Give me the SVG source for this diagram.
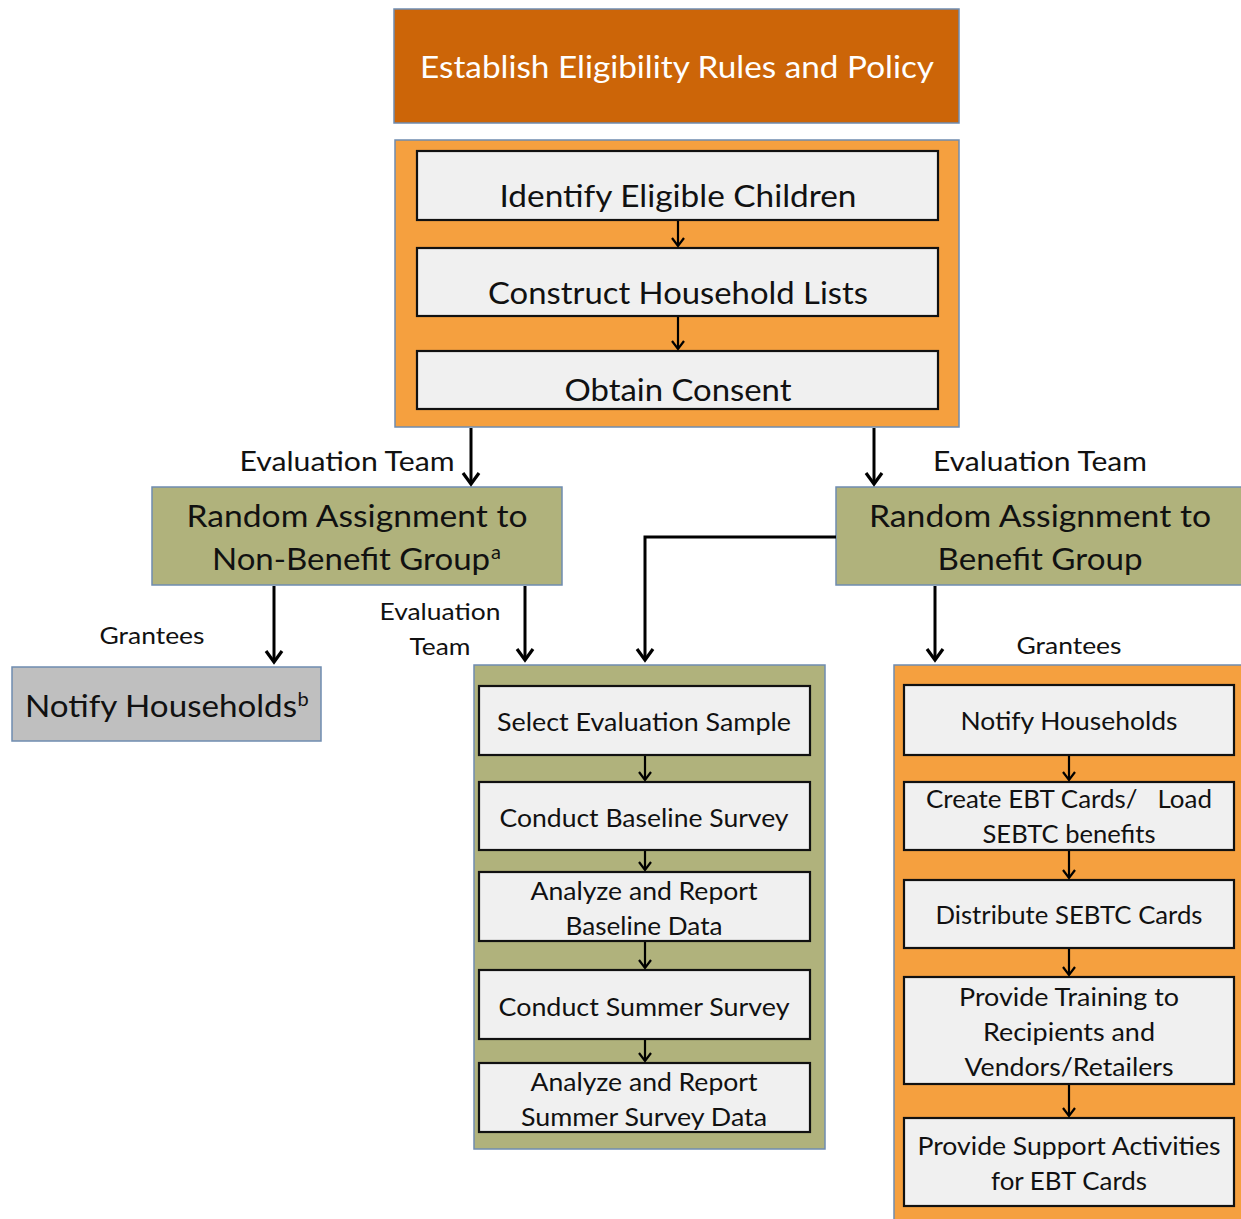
<svg xmlns="http://www.w3.org/2000/svg" width="1241" height="1219" viewBox="0 0 1241 1219">
<style>
text{font-family:Lato,"Open Sans","Liberation Sans",sans-serif;fill:#111;text-anchor:middle}
.outer{stroke:#6F8CB0;stroke-width:1.5}
.dark{fill:#CC6508}
.orange{fill:#F5A03F}
.olive{fill:#B0B27C}
.grey{fill:#BFBFBF}
.inner{fill:#F0F0F0;stroke:#111;stroke-width:2.2}
.big{font-size:30px}
.mid{font-size:26px}
.sm{font-size:24.5px}
.lbl{font-size:23px}
.sup{font-size:20px}
.thick{stroke:#000;stroke-width:3;fill:none}
.thin{stroke:#000;stroke-width:2.2;fill:none}
</style>
<defs>
<marker id="ah" markerUnits="userSpaceOnUse" markerWidth="26" markerHeight="26" viewBox="-13 -13 26 26" refX="0" refY="0" orient="auto">
<path d="M-11,-8 L0,0 L-11,8" fill="none" stroke="#000" stroke-width="3.2"/>
</marker>
<marker id="ahs" markerUnits="userSpaceOnUse" markerWidth="18" markerHeight="18" viewBox="-9 -9 18 18" refX="0" refY="0" orient="auto">
<path d="M-8,-6 L0,0 L-8,6" fill="none" stroke="#000" stroke-width="2.2"/>
</marker>
</defs>
<rect width="1241" height="1219" fill="#fff"/>

<g id="establish">
<rect class="outer dark" x="394" y="9" width="565" height="114"/>
<text class="big" x="677" y="78" style="fill:#fff" textLength="514" lengthAdjust="spacingAndGlyphs">Establish Eligibility Rules and Policy</text>
</g>

<g id="prep-container">
<rect class="outer orange" x="395" y="140" width="564" height="287"/>
</g>
<g id="identify">
<rect class="inner" x="417" y="151" width="521" height="69"/>
<text class="big" x="678" y="207" textLength="357" lengthAdjust="spacingAndGlyphs">Identify Eligible Children</text>
</g>
<g id="construct">
<rect class="inner" x="417" y="248" width="521" height="68"/>
<text class="big" x="678" y="304" textLength="380" lengthAdjust="spacingAndGlyphs">Construct Household Lists</text>
</g>
<g id="consent">
<rect class="inner" x="417" y="351" width="521" height="58"/>
<text class="big" x="678" y="401" textLength="227" lengthAdjust="spacingAndGlyphs">Obtain Consent</text>
</g>

<g id="nonbenefit">
<rect class="outer olive" x="152" y="487" width="410" height="98"/>
<text class="big" x="357" y="527" textLength="341" lengthAdjust="spacingAndGlyphs">Random Assignment to</text>
<text class="big" x="351" y="570" textLength="278" lengthAdjust="spacingAndGlyphs">Non-Benefit Group</text>
<text class="sup" x="496" y="559">a</text>
</g>

<g id="benefit">
<rect class="outer olive" x="836" y="487" width="410" height="98"/>
<text class="big" x="1040" y="527" textLength="342" lengthAdjust="spacingAndGlyphs">Random Assignment to</text>
<text class="big" x="1040" y="570" textLength="205" lengthAdjust="spacingAndGlyphs">Benefit Group</text>
</g>

<g id="notify-nonbenefit">
<rect class="outer grey" x="12" y="667" width="309" height="74"/>
<text class="big" x="161" y="717" textLength="272" lengthAdjust="spacingAndGlyphs">Notify Households</text>
<text class="sup" x="303" y="706">b</text>
</g>

<g id="eval-container">
<rect class="outer olive" x="474" y="665" width="351" height="484"/>
</g>
<g id="select-sample">
<rect class="inner" x="479" y="686" width="331" height="69"/>
<text class="sm" x="644" y="731" textLength="294" lengthAdjust="spacingAndGlyphs">Select Evaluation Sample</text>
</g>
<g id="baseline-survey">
<rect class="inner" x="479" y="782" width="331" height="68"/>
<text class="sm" x="644" y="827" textLength="289" lengthAdjust="spacingAndGlyphs">Conduct Baseline Survey</text>
</g>
<g id="baseline-report">
<rect class="inner" x="479" y="872" width="331" height="69"/>
<text class="sm" x="644" y="900" textLength="227" lengthAdjust="spacingAndGlyphs">Analyze and Report</text>
<text class="sm" x="644" y="935" textLength="157" lengthAdjust="spacingAndGlyphs">Baseline Data</text>
</g>
<g id="summer-survey">
<rect class="inner" x="479" y="970" width="331" height="69"/>
<text class="sm" x="644" y="1016" textLength="291" lengthAdjust="spacingAndGlyphs">Conduct Summer Survey</text>
</g>
<g id="summer-report">
<rect class="inner" x="479" y="1063" width="331" height="69"/>
<text class="sm" x="644" y="1091" textLength="227" lengthAdjust="spacingAndGlyphs">Analyze and Report</text>
<text class="sm" x="644" y="1126" textLength="246" lengthAdjust="spacingAndGlyphs">Summer Survey Data</text>
</g>

<g id="grantee-container">
<rect class="outer orange" x="894" y="665" width="360" height="570"/>
</g>
<g id="notify-benefit">
<rect class="inner" x="904" y="685" width="330" height="70"/>
<text class="sm" x="1069" y="730" textLength="217" lengthAdjust="spacingAndGlyphs">Notify Households</text>
</g>
<g id="create-cards">
<rect class="inner" x="904" y="782" width="330" height="68"/>
<text class="sm" x="1069" y="808" textLength="286" lengthAdjust="spacingAndGlyphs" xml:space="preserve">Create EBT Cards/   Load</text>
<text class="sm" x="1069" y="843" textLength="173" lengthAdjust="spacingAndGlyphs">SEBTC benefits</text>
</g>
<g id="distribute">
<rect class="inner" x="904" y="880" width="330" height="68"/>
<text class="sm" x="1069" y="924" textLength="267" lengthAdjust="spacingAndGlyphs">Distribute SEBTC Cards</text>
</g>
<g id="training">
<rect class="inner" x="904" y="977" width="330" height="107"/>
<text class="sm" x="1069" y="1006" textLength="220" lengthAdjust="spacingAndGlyphs">Provide Training to</text>
<text class="sm" x="1069" y="1041" textLength="172" lengthAdjust="spacingAndGlyphs">Recipients and</text>
<text class="sm" x="1069" y="1076" textLength="209" lengthAdjust="spacingAndGlyphs">Vendors/Retailers</text>
</g>
<g id="support">
<rect class="inner" x="904" y="1118" width="330" height="88"/>
<text class="sm" x="1069" y="1155" textLength="303" lengthAdjust="spacingAndGlyphs">Provide Support Activities</text>
<text class="sm" x="1069" y="1190" textLength="156" lengthAdjust="spacingAndGlyphs">for EBT Cards</text>
</g>

<g id="connectors">
<line class="thin" x1="678" y1="221" x2="678" y2="246" marker-end="url(#ahs)"/>
<line class="thin" x1="678" y1="317" x2="678" y2="349" marker-end="url(#ahs)"/>
<line class="thick" x1="471" y1="428" x2="471" y2="484" marker-end="url(#ah)"/>
<line class="thick" x1="874" y1="428" x2="874" y2="484" marker-end="url(#ah)"/>
<line class="thick" x1="274" y1="586" x2="274" y2="662" marker-end="url(#ah)"/>
<line class="thick" x1="525" y1="586" x2="525" y2="660" marker-end="url(#ah)"/>
<polyline class="thick" points="836,537 645,537 645,660" marker-end="url(#ah)"/>
<line class="thick" x1="935" y1="586" x2="935" y2="660" marker-end="url(#ah)"/>
<line class="thin" x1="645" y1="756" x2="645" y2="780" marker-end="url(#ahs)"/>
<line class="thin" x1="645" y1="851" x2="645" y2="870" marker-end="url(#ahs)"/>
<line class="thin" x1="645" y1="942" x2="645" y2="968" marker-end="url(#ahs)"/>
<line class="thin" x1="645" y1="1040" x2="645" y2="1061" marker-end="url(#ahs)"/>
<line class="thin" x1="1069" y1="756" x2="1069" y2="780" marker-end="url(#ahs)"/>
<line class="thin" x1="1069" y1="851" x2="1069" y2="878" marker-end="url(#ahs)"/>
<line class="thin" x1="1069" y1="949" x2="1069" y2="975" marker-end="url(#ahs)"/>
<line class="thin" x1="1069" y1="1085" x2="1069" y2="1116" marker-end="url(#ahs)"/>
</g>

<g id="labels">
<text class="mid" x="347" y="471" textLength="215" lengthAdjust="spacingAndGlyphs">Evaluation Team</text>
<text class="mid" x="1040" y="471" textLength="214" lengthAdjust="spacingAndGlyphs">Evaluation Team</text>
<text class="lbl" x="152" y="644" textLength="105" lengthAdjust="spacingAndGlyphs">Grantees</text>
<text class="lbl" x="440" y="620" textLength="121" lengthAdjust="spacingAndGlyphs">Evaluation</text>
<text class="lbl" x="440" y="655" textLength="61" lengthAdjust="spacingAndGlyphs">Team</text>
<text class="lbl" x="1069" y="654" textLength="105" lengthAdjust="spacingAndGlyphs">Grantees</text>
</g>
</svg>
